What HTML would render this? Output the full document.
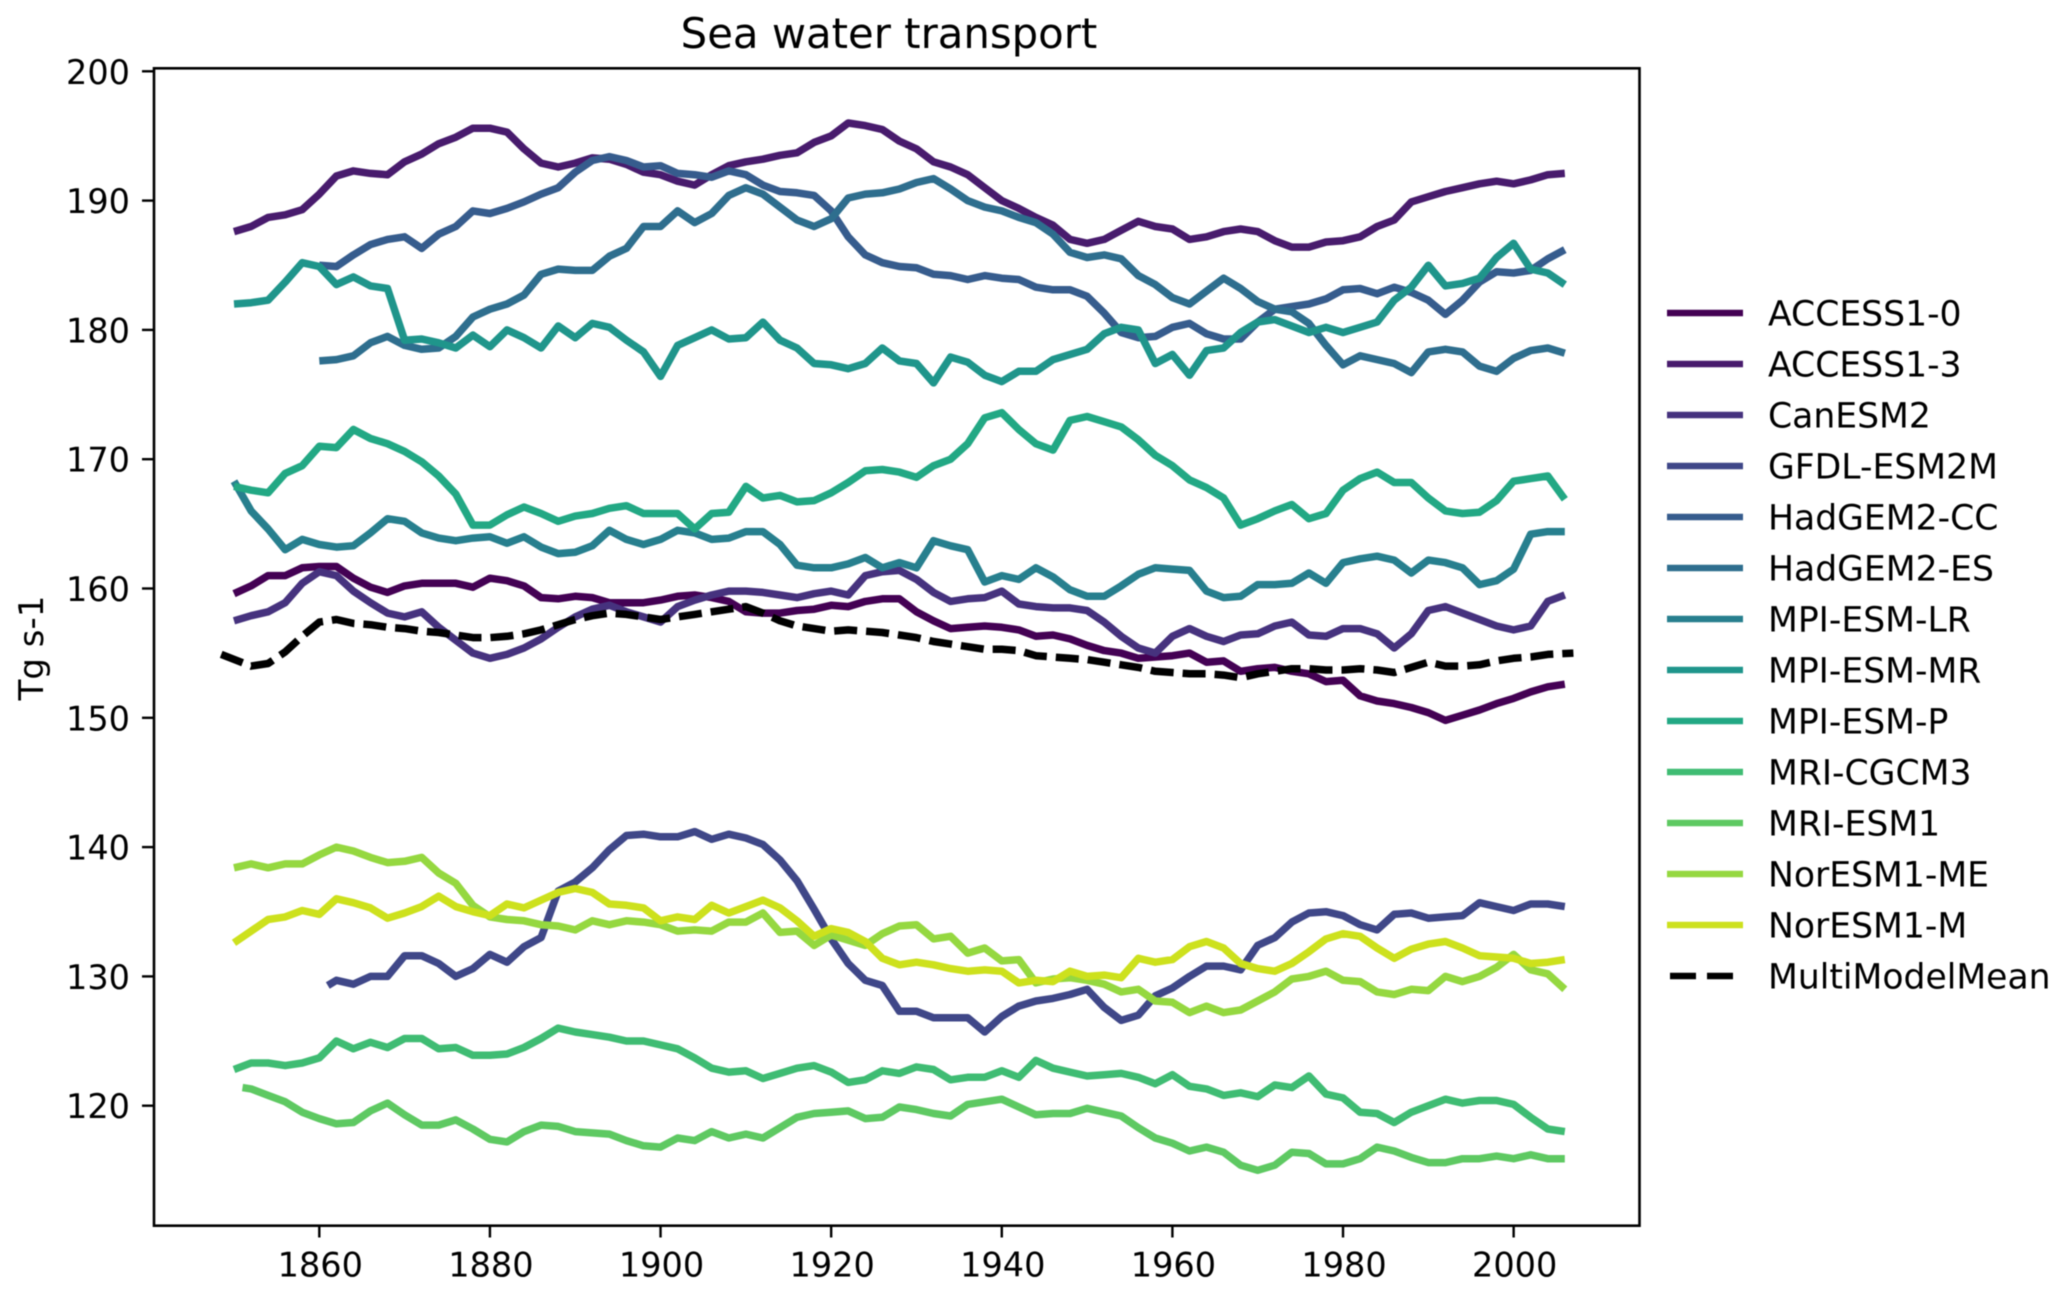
<!DOCTYPE html>
<html lang="en">
<head>
<meta charset="utf-8">
<title>Sea water transport</title>
<style>
html,body{margin:0;padding:0;background:#fff;}
svg{display:block;filter:blur(0.55px);}
text{font-family:"DejaVu Sans","Liberation Sans",sans-serif;fill:#000;}
</style>
</head>
<body>
<svg id="chart" xmlns="http://www.w3.org/2000/svg" width="2067" height="1295" viewBox="0 0 2067 1295">
  <rect x="0" y="0" width="2067" height="1295" fill="#fff"/>
  <text x="889" y="48" font-size="41.8" text-anchor="middle">Sea water transport</text>
  <text x="43" y="0" font-size="34" text-anchor="middle" transform="translate(0,648) rotate(-90 43 0)">Tg s-1</text>
  <g id="series-layer"></g>
  <g id="axis-layer"></g>
  <g id="legend-layer"></g>
</svg>
<script>
const years = [
1850,1852,1854,1856,1858,1860,1862,1864,1866,1868,
1870,1872,1874,1876,1878,1880,1882,1884,1886,1888,
1890,1892,1894,1896,1898,1900,1902,1904,1906,1908,
1910,1912,1914,1916,1918,1920,1922,1924,1926,1928,
1930,1932,1934,1936,1938,1940,1942,1944,1946,1948,
1950,1952,1954,1956,1958,1960,1962,1964,1966,1968,
1970,1972,1974,1976,1978,1980,1982,1984,1986,1988,
1990,1992,1994,1996,1998,2000,2002,2004,2006];

const access10 = [
159.6,160.2,161,161,161.6,161.7,161.7,160.8,160.1,159.7,
160.2,160.4,160.4,160.4,160.1,160.8,160.6,160.2,159.3,159.2,
159.4,159.3,158.9,158.9,158.9,159.1,159.4,159.5,159.3,159,
158.2,158.1,158.1,158.3,158.4,158.7,158.6,159,159.2,159.2,
158.2,157.5,156.9,157,157.1,157,156.8,156.3,156.4,156.1,
155.6,155.2,155,154.6,154.7,154.8,155,154.3,154.4,153.6,
153.8,153.9,153.6,153.4,152.8,152.9,151.7,151.3,151.1,150.8,
150.4,149.8,150.2,150.6,151.1,151.5,152,152.4,152.6];

const access13 = [
187.6,188,188.7,188.9,189.3,190.5,191.9,192.3,192.1,192,
193,193.6,194.4,194.9,195.6,195.6,195.3,194,192.9,192.6,
192.9,193.3,193.2,192.8,192.2,192,191.5,191.2,192,192.7,
193,193.2,193.5,193.7,194.5,195,196,195.8,195.5,194.6,
194,193,192.6,192,191,190,189.4,188.7,188.1,187,
186.7,187,187.7,188.4,188,187.8,187,187.2,187.6,187.8,
187.6,186.9,186.4,186.4,186.8,186.9,187.2,188,188.5,189.9,
190.3,190.7,191,191.3,191.5,191.3,191.6,192,192.1];

const canEsm2 = [
157.5,157.9,158.2,158.9,160.4,161.3,161,159.8,158.9,158.1,
157.8,158.2,157,156,155,154.6,154.9,155.4,156.1,157,
157.8,158.4,158.7,158.2,157.8,157.4,158.6,159.1,159.5,159.8,
159.8,159.7,159.5,159.3,159.6,159.8,159.5,161,161.3,161.4,
160.7,159.7,159,159.2,159.3,159.8,158.8,158.6,158.5,158.5,
158.3,157.4,156.3,155.4,155,156.3,156.9,156.3,155.9,156.4,
156.5,157.1,157.4,156.4,156.3,156.9,156.9,156.5,155.4,156.5,
158.3,158.6,158.1,157.6,157.1,156.8,157.1,159,159.5];

const gfdlEsm2m = [
null,null,null,null,null,129.3,129.7,129.4,130,130,
131.6,131.6,131,130,130.6,131.7,131.1,132.3,133,136.6,
137.3,138.4,139.8,140.9,141,140.8,140.8,141.2,140.6,141,
140.7,140.2,139,137.4,135.2,132.9,131,129.7,129.3,127.3,
127.3,126.8,126.8,126.8,125.7,126.9,127.7,128.1,128.3,128.6,
129,127.6,126.6,127,128.5,129.1,130,130.8,130.8,130.5,
132.4,133,134.2,134.9,135,134.7,134,133.6,134.8,134.9,
134.5,134.6,134.7,135.7,135.4,135.1,135.6,135.6,135.4];

const hadgem2Cc = [
null,null,null,null,null,185,184.9,185.8,186.6,187,
187.2,186.3,187.4,188,189.2,189,189.4,189.9,190.5,191,
192.2,193.1,193.4,193.1,192.6,192.7,192.1,192,191.8,192.3,
192,191.2,190.7,190.6,190.4,189.2,187.2,185.8,185.2,184.9,
184.8,184.3,184.2,183.9,184.2,184,183.9,183.3,183.1,183.1,
182.6,181.3,179.8,179.4,179.5,180.2,180.5,179.7,179.3,179.3,
180.6,181.6,181.8,182,182.4,183.1,183.2,182.8,183.3,182.9,
182.3,181.2,182.3,183.7,184.5,184.4,184.6,185.5,186.2];

const hadgem2Es = [
null,null,null,null,null,177.6,177.7,178,179,179.5,
178.8,178.5,178.6,179.5,181,181.6,182,182.7,184.3,184.7,
184.6,184.6,185.7,186.3,188,188,189.2,188.3,189,190.4,
191,190.5,189.5,188.5,188,188.6,190.2,190.5,190.6,190.9,
191.4,191.7,190.9,190,189.5,189.2,188.7,188.3,187.4,186,
185.6,185.8,185.5,184.2,183.5,182.5,182,183,184,183.2,
182.2,181.6,181.4,180.5,178.8,177.3,178,177.7,177.4,176.7,
178.3,178.5,178.3,177.2,176.8,177.8,178.4,178.6,178.2];

const mpiEsmLr = [
168.3,166,164.6,163,163.8,163.4,163.2,163.3,164.3,165.4,
165.2,164.3,163.9,163.7,163.9,164,163.5,164,163.2,162.7,
162.8,163.3,164.5,163.8,163.4,163.8,164.5,164.3,163.8,163.9,
164.4,164.4,163.4,161.8,161.6,161.6,161.9,162.4,161.6,162,
161.6,163.7,163.3,163,160.5,161,160.7,161.6,160.9,159.9,
159.4,159.4,160.2,161.1,161.6,161.5,161.4,159.8,159.3,159.4,
160.3,160.3,160.4,161.2,160.4,162,162.3,162.5,162.2,161.2,
162.2,162,161.6,160.3,160.6,161.5,164.2,164.4,164.4];

const mpiEsmMr = [
182,182.1,182.3,183.7,185.2,184.9,183.5,184.1,183.4,183.2,
179.2,179.3,179,178.6,179.6,178.7,180,179.4,178.6,180.3,
179.4,180.5,180.2,179.2,178.3,176.4,178.8,179.4,180,179.3,
179.4,180.6,179.2,178.6,177.4,177.3,177,177.4,178.6,177.6,
177.4,175.9,177.9,177.5,176.5,176,176.8,176.8,177.7,178.1,
178.5,179.7,180.2,180,177.4,178.1,176.5,178.4,178.6,179.8,
180.6,180.8,180.3,179.8,180.2,179.8,180.2,180.6,182.3,183.3,
185,183.4,183.6,184,185.6,186.7,184.7,184.4,183.5];

const mpiEsmP = [
167.9,167.6,167.4,168.9,169.5,171,170.9,172.3,171.6,171.2,
170.6,169.8,168.7,167.3,164.9,164.9,165.7,166.3,165.8,165.2,
165.6,165.8,166.2,166.4,165.8,165.8,165.8,164.6,165.8,165.9,
167.9,167,167.2,166.7,166.8,167.4,168.2,169.1,169.2,169,
168.6,169.5,170,171.2,173.2,173.6,172.3,171.2,170.7,173,
173.3,172.9,172.5,171.5,170.3,169.5,168.4,167.8,167,164.9,
165.4,166,166.5,165.4,165.8,167.6,168.5,169,168.2,168.2,
167,166,165.8,165.9,166.8,168.3,168.5,168.7,166.9];

const mriCgcm3 = [
122.8,123.3,123.3,123.1,123.3,123.7,125,124.4,124.9,124.5,
125.2,125.2,124.4,124.5,123.9,123.9,124,124.5,125.2,126,
125.7,125.5,125.3,125,125,124.7,124.4,123.7,122.9,122.6,
122.7,122.1,122.5,122.9,123.1,122.6,121.8,122,122.7,122.5,
123,122.8,122,122.2,122.2,122.7,122.2,123.5,122.9,122.6,
122.3,122.4,122.5,122.2,121.7,122.4,121.5,121.3,120.8,121,
120.7,121.6,121.4,122.3,120.9,120.6,119.5,119.4,118.7,119.5,
120,120.5,120.2,120.4,120.4,120.1,119.1,118.2,118];

const mriEsm1 = [
121.4,121.3,120.8,120.3,119.5,119,118.6,118.7,119.6,120.2,
119.3,118.5,118.5,118.9,118.2,117.4,117.2,118,118.5,118.4,
118,117.9,117.8,117.3,116.9,116.8,117.5,117.3,118,117.5,
117.8,117.5,118.3,119.1,119.4,119.5,119.6,119,119.1,119.9,
119.7,119.4,119.2,120.1,120.3,120.5,119.9,119.3,119.4,119.4,
119.8,119.5,119.2,118.3,117.5,117.1,116.5,116.8,116.4,115.4,
115,115.4,116.4,116.3,115.5,115.5,115.9,116.8,116.5,116,
115.6,115.6,115.9,115.9,116.1,115.9,116.2,115.9,115.9];

const norEsm1Me = [
138.4,138.7,138.4,138.7,138.7,139.4,140,139.7,139.2,138.8,
138.9,139.2,138,137.2,135.5,134.6,134.4,134.3,134,133.9,
133.6,134.3,134,134.3,134.2,134,133.5,133.6,133.5,134.2,
134.2,134.9,133.4,133.5,132.4,133.2,132.8,132.4,133.3,133.9,
134,132.9,133.1,131.8,132.2,131.2,131.3,129.5,129.8,129.9,
129.7,129.4,128.8,129,128.1,128,127.2,127.7,127.2,127.4,
128.1,128.8,129.8,130,130.4,129.7,129.6,128.8,128.6,129,
128.9,130,129.6,130,130.7,131.7,130.5,130.2,129];

const norEsm1M = [
132.6,133.5,134.4,134.6,135.1,134.8,136,135.7,135.3,134.5,
134.9,135.4,136.2,135.4,135,134.7,135.6,135.3,135.9,136.5,
136.8,136.5,135.6,135.5,135.3,134.3,134.6,134.4,135.5,134.9,
135.4,135.9,135.3,134.3,133.1,133.7,133.4,132.7,131.4,130.9,
131.1,130.9,130.6,130.4,130.5,130.4,129.5,129.7,129.6,130.4,
130,130.1,129.9,131.4,131.1,131.3,132.3,132.7,132.2,131,
130.6,130.4,131,131.9,132.9,133.3,133.1,132.2,131.4,132.1,
132.5,132.7,132.2,131.6,131.5,131.4,131,131.1,131.3];

const multiModelMean = [
154.9,154,154.2,155.1,156.3,157.4,157.6,157.3,157.2,157,
156.9,156.7,156.6,156.4,156.2,156.2,156.3,156.5,156.8,157.2,
157.6,157.9,158.1,158,157.8,157.6,157.8,158,158.2,158.4,
158.6,158.1,157.5,157.1,156.9,156.7,156.8,156.7,156.6,156.4,
156.2,155.9,155.7,155.5,155.3,155.3,155.2,154.8,154.7,154.6,
154.5,154.3,154.1,153.9,153.6,153.5,153.4,153.4,153.3,153.1,
153.4,153.6,153.8,153.8,153.7,153.7,153.8,153.7,153.5,153.9,
154.3,154,154,154.1,154.4,154.6,154.7,154.9,155];

const modelNames = ["ACCESS1-0","ACCESS1-3","CanESM2","GFDL-ESM2M","HadGEM2-CC","HadGEM2-ES","MPI-ESM-LR","MPI-ESM-MR","MPI-ESM-P","MRI-CGCM3","MRI-ESM1","NorESM1-ME","NorESM1-M","MultiModelMean"];
const startYears = [1850,1850,1850,1861,1860,1860,1850,1850,1850,1850,1851,1850,1850,1848.5];
const endYears = [2006,2006,2006,2006,2006,2006,2006,2006,2006,2006,2006,2006,2006,2007];
const seriesValues = [access10,access13,canEsm2,gfdlEsm2m,hadgem2Cc,hadgem2Es,mpiEsmLr,mpiEsmMr,mpiEsmP,mriCgcm3,mriEsm1,norEsm1Me,norEsm1M,multiModelMean];
const seriesColors = ["#440154","#481b6d","#46327e","#3f4788","#365c8d","#2e6e8e","#277f8e","#1f958b","#22a884","#3fbc73","#5ec962","#95d840","#cde11d","#000000"];
const yTickValues = [120,130,140,150,160,170,180,190,200];
const xTickValues = [1860,1880,1900,1920,1940,1960,1980,2000];

const NS = "http://www.w3.org/2000/svg";
function xScale(year){ return 319.3 + (year - 1860) * 8.531; }
function yScale(value){ return 71.3 + (200 - value) * 12.93; }
function mk(tag, attrs, parent){
  const el = document.createElementNS(NS, tag);
  for (const k in attrs) el.setAttribute(k, attrs[k]);
  parent.appendChild(el);
  return el;
}
function slug(s){ return s.toLowerCase().replace(/[^a-z0-9]+/g, '-'); }

const seriesLayer = document.getElementById('series-layer');
const axisLayer = document.getElementById('axis-layer');
const legendLayer = document.getElementById('legend-layer');

seriesValues.forEach(function(vals, s){
  let d = '';
  let started = false;
  vals.forEach(function(v, i){
    if (v === null || v === undefined) return;
    let yr = started ? years[i] : startYears[s];
    if (i === vals.length - 1) yr = endYears[s];
    d += (started ? 'L' : 'M') + xScale(yr).toFixed(1) + ' ' + yScale(v).toFixed(1);
    started = true;
  });
  const isMean = modelNames[s] === 'MultiModelMean';
  const line = mk('path', {d: d, fill: 'none', stroke: seriesColors[s], 'stroke-width': 7.5, 'stroke-linejoin': 'round'}, seriesLayer);
  if (isMean) line.setAttribute('stroke-dasharray', '23 9');
  
  
});

const frame = mk('rect', {x: 154, y: 68.3, width: 1485.5, height: 1157.4, fill: 'none', stroke: '#000', 'stroke-width': 2.6}, axisLayer);



yTickValues.forEach(function(v){
  const y = yScale(v);
  const tick = mk('line', {x1: 142, x2: 154, y1: y, y2: y, stroke: '#000', 'stroke-width': 2.4}, axisLayer);
  
  
  const label = mk('text', {x: 130, y: y + 12.5, 'font-size': 33.5, 'text-anchor': 'end'}, axisLayer);
  label.textContent = String(v);
  
  
});

xTickValues.forEach(function(v){
  const x = xScale(v);
  const tick = mk('line', {x1: x, x2: x, y1: 1225.7, y2: 1237.5, stroke: '#000', 'stroke-width': 2.4}, axisLayer);
  
  
  const label = mk('text', {x: x + 1, y: 1276.5, 'font-size': 33.5, 'text-anchor': 'middle'}, axisLayer);
  label.textContent = String(v);
  
  
});

modelNames.forEach(function(name, i){
  const y = 313 + i * 51;
  const isMean = name === 'MultiModelMean';
  const entry = mk('g', {}, legendLayer);
  
  
  const swatch = mk('line', {x1: isMean ? 1670 : 1667, x2: isMean ? 1733 : 1743, y1: y, y2: y, stroke: seriesColors[i], 'stroke-width': 6.5}, entry);
  if (isMean) swatch.setAttribute('stroke-dasharray', '26 11');
  
  
  const label = mk('text', {x: 1768, y: y + 12.5, 'font-size': 34.6}, entry);
  label.textContent = name;
  
  
});
</script>
</body>
</html>
